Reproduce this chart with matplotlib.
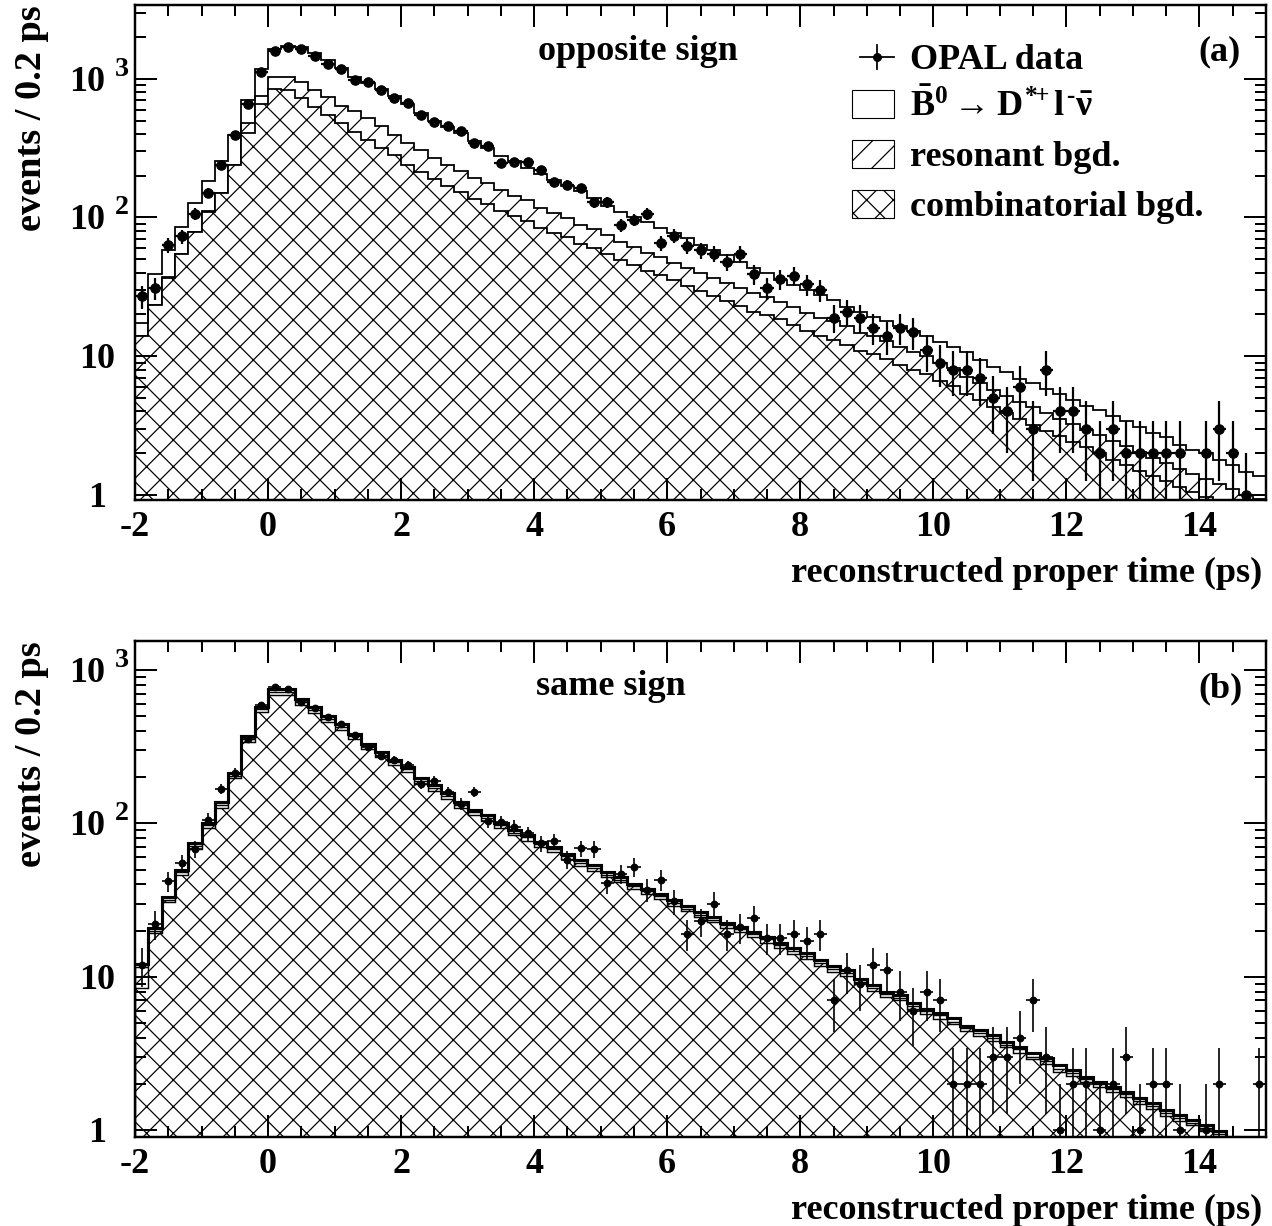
import numpy as np
import matplotlib
matplotlib.use("Agg")
from matplotlib import pyplot as plt
from matplotlib.patches import Rectangle
from matplotlib.lines import Line2D
import matplotlib.transforms as mtransforms
from matplotlib.ticker import MultipleLocator, LogLocator

plt.rcParams['font.family'] = ['Liberation Serif', 'DejaVu Serif']
plt.rcParams['font.weight'] = 'bold'
plt.rcParams['mathtext.fontset'] = 'custom'
plt.rcParams['mathtext.rm'] = 'Liberation Serif:bold'
plt.rcParams['mathtext.it'] = 'Liberation Serif:bold'
plt.rcParams['mathtext.bf'] = 'Liberation Serif:bold'
plt.rcParams['hatch.linewidth'] = 1.1

# binning: -2 .. 15 ps, 0.2 ps bins
t_lo, t_hi, t_bin = -2.0, 15.0, 0.2
edges = t_lo + t_bin * np.arange(86)

# ---- (a) opposite sign ----
data_a = np.array([27, 31, 63, 73, 106, 150, 240, 395, 660, 1110,
                   1575, 1683, 1636, 1466, 1283, 1180, 984, 941, 824, 726,
                   668, 550, 485, 453, 422, 344, 329, 247, 253, 253,
                   221, 179, 172, 163, 129, 129, 88, 96, 106, 65,
                   74, 62, 58, 55, 48, 55, 39, 31, 36, 38,
                   33, 30, 19, 21, 19, 16, 14, 16, 15, 11,
                   9, 8, 8, 7, 5, 4, 6, 3, 8, 4,
                   4, 3, 2, 3, 2, 2, 2, 2, 2, 0,
                   2, 3, 2, 1, 0])
total_a = np.array([17.5, 39, 58.5, 85, 127, 182, 256, 395, 706, 1175,
                    1640, 1720, 1680, 1531, 1355, 1194, 1028, 931, 842, 746,
                    660, 565, 492, 448, 405, 353, 316, 278, 257, 227,
                    206, 187, 169, 154, 138, 121, 110, 100, 93, 84.5,
                    77, 71, 63.4, 58.3, 53.7, 48.1, 43, 39.6, 35.5, 32.7,
                    30.1, 27.7, 25.5, 22.8, 21, 19.3, 17.8, 16.4, 15.1, 13.9,
                    12.6, 11.6, 10.8, 9.4, 8.4, 7.7, 6.9, 6.4, 5.8, 5.3,
                    4.8, 4.4, 4.1, 3.7, 3.4, 3.1, 2.8, 2.6, 2.3, 2.1,
                    2.0, 1.8, 1.65, 1.47, 1.36])
resbg_a = np.array([13.9, 23.5, 37, 55, 79, 112, 151, 240, 479, 754,
                    1028, 1028, 941, 833, 738, 638, 581, 520, 453, 395,
                    347, 307, 268, 239, 217, 192, 177, 158, 143, 134,
                    117, 107, 99, 88.5, 82.4, 75, 67, 61.7, 55.3, 52.3,
                    47.3, 43, 39.6, 36.5, 33.6, 30.9, 28.4, 26.9, 24.8, 22.8,
                    20.4, 18.8, 17.8, 16.4, 14.7, 13.9, 12.8, 11.7, 10.8, 10,
                    8.9, 8.2, 7.1, 6.4, 5.7, 5.2, 4.7, 4.3, 3.9, 3.55,
                    3.25, 2.95, 2.7, 2.45, 2.25, 2.05, 1.85, 1.7, 1.55, 1.42,
                    1.3, 1.2, 1.1, 1.0, 0.93])
comb_a = np.array([13.9, 23.5, 36.5, 54.5, 78.5, 110, 150, 237, 405, 660,
                   842, 824, 726, 625, 550, 479, 410, 363, 316, 283,
                   239, 214, 188, 168, 152, 136, 125, 112, 102, 95,
                   84, 77, 72, 64.5, 60, 55, 49, 45.5, 41, 38.7,
                   35.5, 32, 29.3, 27, 24.9, 22.9, 21, 19.9, 18.4, 16.9,
                   15.1, 13.9, 13.2, 12.1, 10.9, 10.3, 9.5, 8.7, 8.0, 7.4,
                   6.6, 6.1, 5.3, 4.8, 4.3, 3.9, 3.5, 3.2, 2.9, 2.65,
                   2.4, 2.2, 2.0, 1.8, 1.65, 1.5, 1.38, 1.26, 1.15, 1.05,
                   0.97, 0.9, 0.83, 0.77, 0.7])

# ---- (b) same sign ----
data_b = np.array([12, 22, 42, 55, 68, 106, 169, 214, 355, 591,
                   771, 748, 621, 568, 496, 443, 377, 313, 276, 259,
                   240, 180, 190, 161, 134, 161, 104, 102, 95, 86,
                   74, 77, 58, 69, 68, 41, 47, 52, 37, 43,
                   31, 19, 23, 30, 19, 21, 24, 18, 18, 19,
                   17, 19, 7, 11, 9, 12, 11, 8, 6, 8,
                   7, 2, 2, 2, 3, 3, 4, 7, 3, 1,
                   2, 2, 1, 2, 3, 1, 2, 2, 1, 0,
                   1, 2, 0, 0, 2])
total_b = np.array([12.1, 20.7, 32.9, 50, 74, 101, 138, 214, 371, 577,
                    748, 748, 644, 571, 501, 444, 386, 332, 293, 261,
                    234, 197, 178, 158, 138, 123, 113, 101, 91, 84,
                    76, 70.5, 63.5, 57.5, 53.5, 48.3, 44.8, 40.5, 37.6, 34.9,
                    31.6, 29, 26.5, 24.6, 22.5, 21.2, 19.7, 18.2, 16.7, 15.3,
                    14.2, 12.8, 11.7, 11, 9.7, 8.8, 8.0, 7.6, 6.7, 6.2,
                    5.8, 5.35, 4.8, 4.5, 4.16, 3.77, 3.5, 3.16, 2.93, 2.65,
                    2.46, 2.23, 2.07, 1.92, 1.78, 1.61, 1.49, 1.35, 1.25, 1.16,
                    1.07, 0.98, 0.9, 0.84, 0.78])
resbg_b = np.array([11.6, 19.9, 31.6, 48, 71, 97, 132, 205, 356, 554,
                    718, 718, 618, 548, 481, 426, 371, 319, 281, 251,
                    225, 189, 171, 152, 132, 118, 108, 97, 87, 81,
                    73, 67.7, 61, 55.2, 51.4, 46.4, 43, 38.9, 36.1, 33.5,
                    30.3, 27.8, 25.4, 23.6, 21.6, 20.4, 18.9, 17.5, 16, 14.7,
                    13.6, 12.3, 11.2, 10.6, 9.3, 8.4, 7.7, 7.3, 6.4, 6.0,
                    5.6, 5.1, 4.6, 4.3, 4.0, 3.6, 3.4, 3.0, 2.8, 2.5,
                    2.36, 2.14, 1.99, 1.84, 1.71, 1.55, 1.43, 1.3, 1.2, 1.11,
                    1.03, 0.94, 0.86, 0.81, 0.75])
comb_b = np.array([8.4, 19.2, 30.5, 46, 68, 93, 127, 197, 341, 531,
                   688, 688, 592, 525, 461, 408, 355, 305, 270, 240,
                   215, 181, 164, 145, 127, 113, 104, 93, 84, 77,
                   70, 64.9, 58.4, 52.9, 49.2, 44.4, 41.2, 37.3, 34.6, 32.1,
                   29.1, 26.7, 24.4, 22.6, 20.7, 19.5, 18.1, 16.7, 15.4, 14.1,
                   13.1, 11.8, 10.8, 10.1, 8.9, 8.1, 7.4, 7.0, 6.2, 5.7,
                   5.3, 4.9, 4.4, 4.1, 3.8, 3.5, 3.2, 2.9, 2.7, 2.4,
                   2.26, 2.05, 1.9, 1.77, 1.64, 1.48, 1.37, 1.24, 1.15, 1.07,
                   0.98, 0.9, 0.83, 0.77, 0.72])

xtick_vals = [-2, 0, 2, 4, 6, 8, 10, 12, 14]
ytick_vals = [1, 10, 100, 1000]
ytick_base = ['1', '10', '10', '10']
ytick_exp = ['', '', '2', '3']

W, H, DPI = 1272, 1226, 80
FS = 32.5


def fx(px):
    return px / W


def fy(py):
    return 1 - py / H


fig = plt.figure(figsize=(W / DPI, H / DPI), dpi=DPI)
ax_a = fig.add_axes([fx(135), fy(500), 1131 / W, 495 / H])
ax_b = fig.add_axes([fx(135), fy(1137), 1131 / W, 496 / H])


def draw_panel(ax, total, resbg, comb, data, ylim, lw_tot, lw_in, ms, elw):
    ax.stairs(total, edges, baseline=1e-3, fill=True, facecolor='white',
              edgecolor='none')
    ax.stairs(resbg, edges, baseline=1e-3, fill=True, facecolor='white',
              edgecolor='black', hatch='/', linewidth=lw_in)
    ax.stairs(comb, edges, baseline=1e-3, fill=True, facecolor='white',
              edgecolor='black', hatch='x', linewidth=lw_in)
    ax.stairs(total, edges, baseline=None, fill=False, color='black',
              linewidth=lw_tot)
    x = edges[:-1] + t_bin / 2
    m = data > 0
    n = data[m].astype(float)
    lo = np.minimum(np.sqrt(n), n - 1e-3)
    ax.errorbar(x[m], n, xerr=t_bin / 2, yerr=[lo, np.sqrt(n)], fmt='o',
                color='black', ms=ms, elinewidth=elw, capsize=0, zorder=5)

    ax.set_xlim(t_lo, t_hi)
    ax.set_yscale('log')
    ax.set_ylim(*ylim)
    ax.xaxis.set_major_locator(MultipleLocator(2))
    ax.xaxis.set_minor_locator(MultipleLocator(0.5))
    ax.yaxis.set_major_locator(LogLocator(base=10, numticks=10))
    ax.yaxis.set_minor_locator(LogLocator(base=10, subs=np.arange(2, 10), numticks=50))
    ax.tick_params(which='both', direction='in', top=True, right=True,
                   labelbottom=False, labelleft=False, width=1.8)
    ax.tick_params(which='major', length=20)
    ax.tick_params(which='minor', length=10)
    for s in ax.spines.values():
        s.set_linewidth(2.2)
        s.set_zorder(10)

    # tick labels
    tx = mtransforms.blended_transform_factory(ax.transData, fig.transFigure)
    bottom_px = H * (1 - ax.get_position().y0)
    for v in xtick_vals:
        ax.text(v, fy(bottom_px + 36), str(v), transform=tx, ha='center',
                va='baseline', fontsize=FS, fontweight='bold')
    ty = mtransforms.blended_transform_factory(fig.transFigure, ax.transData)
    ty_base = mtransforms.offset_copy(ty, fig=fig, x=0, y=-12, units='dots')
    ty_sup = mtransforms.offset_copy(ty, fig=fig, x=0, y=3, units='dots')
    for v, b, e in zip(ytick_vals, ytick_base, ytick_exp):
        if e:
            ax.text(fx(87), v, b, transform=ty_base, ha='center', va='baseline',
                    fontsize=FS, fontweight='bold')
            ax.text(fx(115), v, e, transform=ty_sup, ha='left', va='baseline',
                    fontsize=FS * 0.78, fontweight='bold')
        else:
            ax.text(fx(97), v, b, transform=ty_base, ha='center', va='baseline',
                    fontsize=FS, fontweight='bold')

    top_px = H * (1 - ax.get_position().y1)
    fig.text(fx(32), fy(top_px), 'events / 0.2 ps', rotation=90, ha='center',
             va='top', fontsize=FS + 2, fontweight='bold')
    fig.text(fx(1262), fy(bottom_px + 82), 'reconstructed proper time (ps)',
             ha='right', va='baseline', fontsize=FS, fontweight='bold')


draw_panel(ax_a, total_a, resbg_a, comb_a, data_a, (0.92, 3400), 1.6, 1.6, 8.5, 2.0)
draw_panel(ax_b, total_b, resbg_b, comb_b, data_b, (0.9, 1550), 2.8, 1.3, 6.0, 1.5)

# panel texts
fig.text(fx(638), fy(60), 'opposite sign', ha='center', va='baseline',
         fontsize=FS, fontweight='bold')
fig.text(fx(1241), fy(60), '(a)', ha='right', va='baseline', fontsize=FS,
         fontweight='bold')
fig.text(fx(611), fy(695), 'same sign', ha='center', va='baseline',
         fontsize=FS, fontweight='bold')
fig.text(fx(1243), fy(697), '(b)', ha='right', va='baseline', fontsize=FS,
         fontweight='bold')

# legend (panel a)
hyphen = '\u2010'
leg_labels = ['OPAL data',
              r'$\bar{B}^{0}\rightarrow D^{*\!\!+}l^{' + hyphen + r'}\bar{\nu}$',
              'resonant bgd.',
              'combinatorial bgd.']
leg_hatch = [None, '', '/', 'x']
leg_rows = [57, 104, 154, 204]
for lab, hat, row in zip(leg_labels, leg_hatch, leg_rows):
    if hat is None:
        fig.add_artist(Line2D([fx(860), fx(894)], [fy(row), fy(row)],
                              color='black', lw=1.6))
        fig.add_artist(Line2D([fx(877), fx(877)], [fy(row - 12), fy(row + 12)],
                              color='black', lw=1.6))
        fig.add_artist(Line2D([fx(877)], [fy(row)], marker='o', ms=7,
                              color='black'))
    else:
        fig.add_artist(Rectangle((fx(852), fy(row + 14)), 42 / W, 28 / H,
                                 transform=fig.transFigure, facecolor='white',
                                 edgecolor='black', hatch=hat, lw=1.0))
    fig.text(fx(910), fy(row + 12), lab, ha='left', va='baseline',
             fontsize=FS, fontweight='bold')

fig.savefig('out.png', dpi=DPI)
